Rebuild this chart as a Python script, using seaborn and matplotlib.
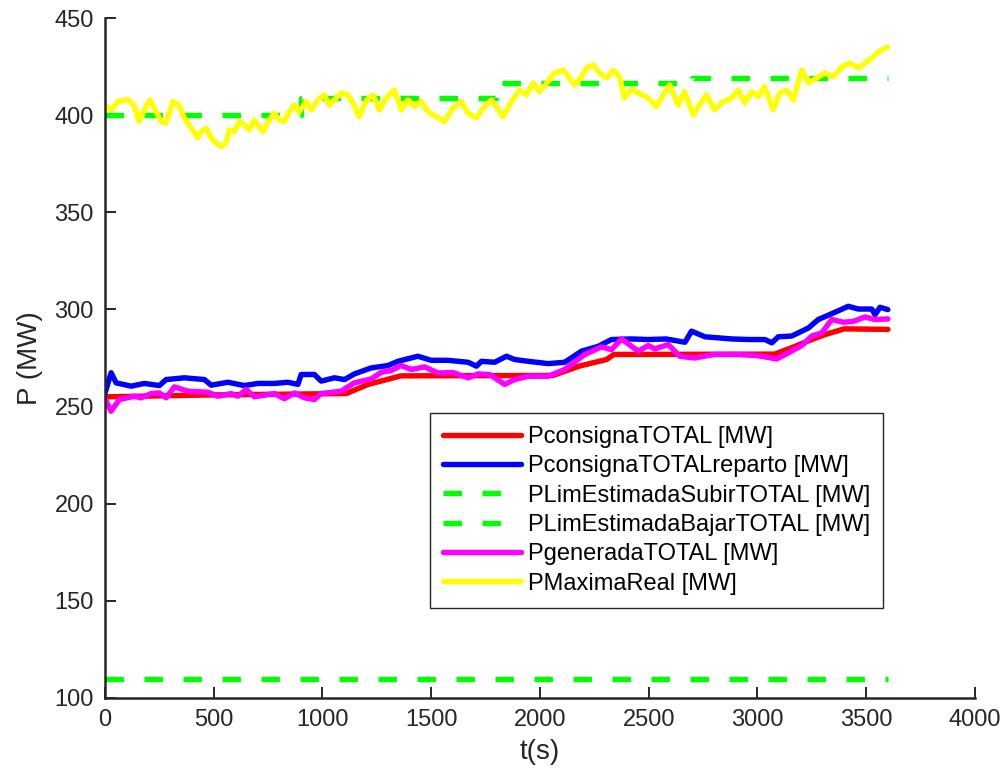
import matplotlib
matplotlib.use("Agg")
import matplotlib.pyplot as plt
from matplotlib import font_manager
import seaborn as sns

# ---------------- data ----------------
t_max = [0, 28, 60, 105, 134, 157, 180, 208, 235, 258,
         281, 312, 341, 364, 396, 427, 442, 465, 488, 511,
         534, 557, 571, 594, 617, 640, 663, 686, 709, 727,
         750, 778, 801, 824, 847, 870, 893, 925, 948, 979,
         1008, 1031, 1054, 1086, 1117, 1140, 1169, 1201, 1232, 1262,
         1293, 1330, 1362, 1393, 1423, 1454, 1485, 1524, 1560, 1600,
         1639, 1669, 1708, 1739, 1777, 1800, 1830, 1869, 1906, 1938,
         1969, 1998, 2038, 2067, 2107, 2136, 2159, 2191, 2214, 2245,
         2274, 2306, 2337, 2366, 2389, 2421, 2452, 2490, 2536, 2567,
         2596, 2636, 2665, 2705, 2734, 2766, 2803, 2843, 2881, 2912,
         2941, 2974, 3004, 3033, 3073, 3102, 3135, 3165, 3204, 3234,
         3273, 3310, 3349, 3388, 3425, 3465, 3494, 3526, 3557, 3600]
p_max = [405, 402.7, 407, 408, 405, 396.7, 402.7, 407.8, 401.8, 396.7,
         396, 407, 405, 398.6, 393.4, 388.3, 391.5, 393.4, 388.3, 385.7,
         383.8, 385.7, 392.4, 391.5, 396.7, 395, 392.4, 397.5, 394, 391.5,
         396.7, 401, 397.5, 396.7, 401.8, 405.2, 401.8, 407, 402.7, 407.8,
         410.4, 405.2, 407.8, 411.4, 410.4, 406.3, 399.2, 407.5, 410.4, 402.7,
         408.8, 412.9, 402.7, 407.8, 404.4, 407, 401.8, 399.2, 396.7, 403.7,
         407, 401, 398.6, 403.7, 407.8, 404.4, 399.2, 407, 412.9, 410.4,
         416.6, 412.1, 417.3, 421.7, 423.2, 419.1, 415.5, 419.8, 424.2, 425.8,
         421.7, 419.1, 423.2, 419.8, 408.8, 413.5, 411.3, 409.5, 404.4, 410.4,
         415.5, 405.2, 412.1, 400.1, 405.2, 410.4, 402.7, 407, 408.8, 412.9,
         406.3, 412.1, 409.5, 414.7, 402.7, 411.4, 412.9, 407.8, 423.2, 416.6,
         419.1, 421.7, 419.8, 424.9, 426.8, 424.2, 426.8, 429.4, 432.6, 435.2]

t_cons = [0, 500, 1110, 1210, 1300, 1360, 2060, 2180, 2306, 2340,
          3080, 3160, 3250, 3310, 3400, 3600]
p_cons = [255, 256, 256.7, 261.4, 264, 265.8, 266, 270.8, 274.2, 276.8,
          277, 280.4, 284.5, 287, 290, 289.7]

t_rep = [0, 28, 51, 120, 181, 250, 281, 365, 457, 488,
         565, 641, 703, 779, 841, 887, 902, 963, 994, 1055,
         1101, 1147, 1224, 1301, 1347, 1439, 1500, 1577, 1670, 1708,
         1731, 1792, 1846, 1884, 1946, 2038, 2114, 2191, 2268, 2329,
         2421, 2498, 2580, 2667, 2697, 2759, 2882, 2960, 3035, 3066,
         3096, 3158, 3234, 3280, 3342, 3418, 3464, 3526, 3541, 3564, 3600]
p_rep = [257, 267.4, 262.2, 260.5, 261.9, 260.8, 263.9, 264.8, 263.9, 261,
         262.5, 260.8, 261.9, 261.9, 262.5, 261.4, 266.5, 266.5, 263.1, 264.8,
         263.9, 266.8, 269.9, 271.1, 273.3, 275.9, 273.8, 273.8, 272.8, 270.8,
         273.3, 272.8, 275.9, 274.2, 273.3, 272.1, 272.8, 278.5, 281, 284.5,
         284.8, 284.5, 284.8, 283.1, 288.8, 285.9, 284.8, 284.5, 284.5, 282.8,
         285.9, 286.3, 290.4, 294.8, 297.8, 301.6, 300.2, 300.2, 297.3, 301.1, 299.9]

t_gen = [0, 28, 66, 135, 166, 212, 250, 281, 319, 381,
         473, 519, 580, 611, 649, 687, 779, 825, 871, 917,
         963, 994, 1086, 1147, 1224, 1270, 1316, 1362, 1409, 1470,
         1531, 1600, 1670, 1716, 1770, 1838, 1884, 1946, 2038, 2114,
         2206, 2283, 2329, 2375, 2452, 2498, 2528, 2590, 2643, 2712,
         2800, 2912, 3000, 3089, 3142, 3204, 3250, 3296, 3342, 3395,
         3440, 3495, 3541, 3600]
p_gen = [254, 247.6, 253.6, 255.3, 254.5, 256.7, 257, 254.5, 260.1, 257.9,
         257.4, 255.3, 256.7, 255.3, 258.8, 255, 256.7, 254, 257, 254.5,
         253.6, 256.7, 257.9, 262.2, 264.2, 267.6, 268.6, 271.1, 269.1, 270.4,
         267.3, 267.5, 264.8, 266.8, 266.4, 261.4, 263.9, 265.6, 265.6, 269.1,
         276.8, 280.7, 279.3, 284.8, 278.5, 281.4, 279.7, 281.9, 275.9, 275,
         276.8, 276.8, 276.2, 274.5, 277.6, 281.4, 286.3, 287.9, 294.8, 293.4,
         293.8, 296.1, 294.8, 295.1]

t_subir = [0, 900, 1800, 2700, 3600]
p_subir = [400, 409, 416.5, 419, 419]

t_bajar = [0, 3600]
p_bajar = [110, 110]

labels = ["PconsignaTOTAL [MW]", "PconsignaTOTALreparto [MW]",
          "PLimEstimadaSubirTOTAL [MW]", "PLimEstimadaBajarTOTAL [MW]",
          "PgeneradaTOTAL [MW]", "PMaximaReal [MW]"]
x_ticks = [0, 500, 1000, 1500, 2000, 2500, 3000, 3500, 4000]
y_ticks = [100, 150, 200, 250, 300, 350, 400, 450]

# ---------------- style ----------------
sns.set_style("ticks")
avail = {f.name for f in font_manager.fontManager.ttflist}
fam = [f for f in ["Liberation Sans", "DejaVu Sans"] if f in avail]
plt.rcParams["font.family"] = fam

fig = plt.figure(figsize=(10.05, 7.83), dpi=100)
ax = fig.add_axes([0.1045, 0.1086, 0.8655, 0.8684])

lw = 3.9
common = dict(ax=ax, estimator=None, sort=False, legend=False)
sns.lineplot(x=t_cons, y=p_cons, color="#ff0000", linewidth=lw, **common)
sns.lineplot(x=t_rep, y=p_rep, color="#0000ff", linewidth=lw, **common)
sns.lineplot(x=t_subir, y=p_subir, color="#00ff00", linewidth=lw,
             drawstyle="steps-post", **common)
sns.lineplot(x=t_bajar, y=p_bajar, color="#00ff00", linewidth=lw, **common)
sns.lineplot(x=t_gen, y=p_gen, color="#ff00ff", linewidth=lw, **common)
sns.lineplot(x=t_max, y=p_max, color="#ffff00", linewidth=lw, **common)

lines = ax.get_lines()
for ln in lines[2:4]:
    ln.set_linestyle((0, (3.4, 3.8)))
for ln in lines:
    ln.set_solid_capstyle("round")
    ln.set_solid_joinstyle("round")
for ln, lab in zip(lines, labels):
    ln.set_label(lab)

ax.set_xlim(0, 4000)
ax.set_ylim(100, 450)
ax.set_xticks(x_ticks)
ax.set_yticks(y_ticks)
for s in ["top", "right"]:
    ax.spines[s].set_visible(False)
for s in ["left", "bottom"]:
    ax.spines[s].set_color("#262626")
    ax.spines[s].set_linewidth(1.8)
ax.tick_params(direction="in", length=8, width=1.4, colors="#262626",
               labelsize=17, pad=8)
ax.set_xlabel("t(s)", fontsize=20, color="#262626", labelpad=6)
ax.set_ylabel("P (MW)", fontsize=20, color="#262626", labelpad=8)

leg = ax.legend(loc="upper left", bbox_to_anchor=(0.3736, 0.419),
                prop={"size": 17}, handlelength=3.3,
                handletextpad=0.3, labelspacing=0.31, borderpad=0.55,
                fancybox=False, framealpha=1, edgecolor="#262626",
                borderaxespad=0)
leg.get_frame().set_linewidth(1.0)
for txt in leg.get_texts():
    txt.set_color("#000000")

fig.savefig("out.png", dpi=100)
